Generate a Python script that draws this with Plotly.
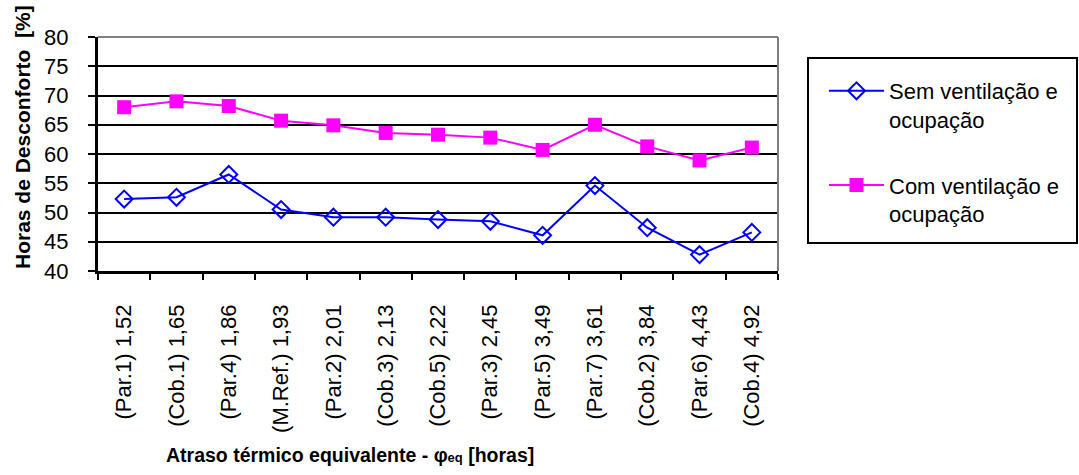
import plotly.graph_objects as go

categories = ["(Par.1) 1,52", "(Cob.1) 1,65", "(Par.4) 1,86", "(M.Ref.) 1,93",
              "(Par.2) 2,01", "(Cob.3) 2,13", "(Cob.5) 2,22", "(Par.3) 2,45",
              "(Par.5) 3,49", "(Par.7) 3,61", "(Cob.2) 3,84", "(Par.6) 4,43",
              "(Cob.4) 4,92"]
sem_ventilacao = [52.3, 52.6, 56.5, 50.5, 49.2, 49.2, 48.8, 48.5, 46.1, 54.6, 47.4, 42.8, 46.6]
com_ventilacao = [68.0, 69.0, 68.2, 65.7, 64.9, 63.6, 63.3, 62.8, 60.7, 65.0, 61.3, 58.9, 61.1]
y_ticks = [40, 45, 50, 55, 60, 65, 70, 75, 80]

font_main = "Arial, Liberation Sans, sans-serif"

fig = go.Figure()
fig.add_trace(go.Scatter(
    x=categories, y=sem_ventilacao, mode="lines+markers",
    name="Sem ventilação e<br>ocupação", legendgroup="a",
    line=dict(color="#0000FF", width=2),
    marker=dict(symbol="diamond-open", size=13, color="#0000FF", line=dict(width=2)),
))
fig.add_trace(go.Scatter(
    x=categories, y=com_ventilacao, mode="lines+markers",
    name="Com ventilação e<br>ocupação", legendgroup="b",
    line=dict(color="#FF00FF", width=2),
    marker=dict(symbol="square", size=14, color="#FF00FF"),
))

fig.update_layout(
    width=1079, height=475,
    margin=dict(l=98, r=301, t=37, b=204),
    paper_bgcolor="white", plot_bgcolor="white",
    font=dict(family=font_main, size=20, color="black"),
    showlegend=True,
    legend=dict(
        x=(824 - 98) / 680, y=(271 - 70) / 234, xanchor="left", yanchor="top",
        borderwidth=0, bgcolor="rgba(0,0,0,0)",
        font=dict(size=22), tracegroupgap=34, valign="top", itemwidth=55,
    ),
    xaxis=dict(
        type="category", tickangle=-90, tickson="boundaries",
        ticks="outside", ticklen=6, tickwidth=2, tickcolor="black",
        showline=True, linecolor="black", linewidth=2.5,
        showgrid=False, ticklabelstandoff=22,
        tickfont=dict(size=22),
        range=[-0.5, 12.5],
    ),
    yaxis=dict(
        range=[40, 80], tickvals=y_ticks,
        ticks="outside", ticklen=7, tickwidth=2, tickcolor="black",
        showline=True, linecolor="black", linewidth=3,
        showgrid=True, gridcolor="black", gridwidth=2,
        ticklabelstandoff=15,
        tickfont=dict(size=22),
    ),
)

# gray plot-area frame on the top and right
fig.add_shape(type="line", xref="paper", yref="paper", x0=0, x1=1, y0=1, y1=1,
              line=dict(color="#808080", width=2))
fig.add_shape(type="line", xref="paper", yref="paper", x0=1, x1=1, y0=0, y1=1,
              line=dict(color="#808080", width=2))

# legend frame
fig.add_shape(type="rect", xref="paper", yref="paper",
              x0=(808 - 98) / 680, x1=(1077 - 98) / 680,
              y0=(271 - 243) / 234, y1=(271 - 58) / 234,
              line=dict(color="black", width=2), fillcolor="rgba(0,0,0,0)")

# axis titles
fig.add_annotation(
    xref="paper", yref="paper", x=(22 - 98) / 680, y=(271 - 137) / 234,
    text="<b>Horas de Desconforto  [%]</b>", textangle=-90, showarrow=False,
    font=dict(size=21, family=font_main), xanchor="center", yanchor="middle",
)
fig.add_annotation(
    xref="paper", yref="paper", x=(350 - 98) / 680, y=(271 - 455) / 234,
    text="<b>Atraso térmico equivalente - φ<span style='font-size:13px'>eq</span> [horas]</b>",
    showarrow=False, font=dict(size=19.5, family=font_main),
    xanchor="center", yanchor="middle",
)

fig.write_html("out.html")
